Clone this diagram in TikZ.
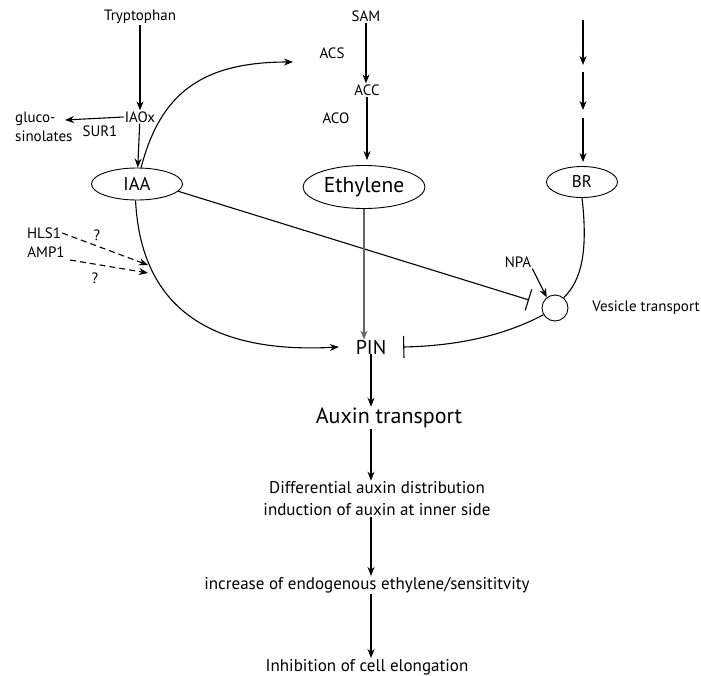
\documentclass[tikz,border=0pt]{standalone}
\usepackage{fontspec}
\setmainfont{PT Sans}
\usetikzlibrary{arrows.meta,shapes.geometric,calc}
\begin{document}
\begin{tikzpicture}[x=1pt,y=-1pt,
  every node/.style={inner sep=1pt},
  lbl/.style={font=\fontsize{15}{16}\selectfont},
  big/.style={font=\fontsize{17}{22}\selectfont},
  ell/.style={draw,ellipse,line width=0.9pt,inner sep=0pt},
  arr/.style={line width=1.1pt,-{Stealth[length=9pt,width=7pt]}},
  inh/.style={line width=1.1pt,-{Bar[width=22pt,line width=1.1pt]}},
  dsh/.style={line width=1.1pt,dash pattern=on 6pt off 4pt,-{Stealth[length=9pt,width=7pt]}}]
\useasboundingbox (0,0) rectangle (701,675);
% IAA branch
\node[lbl] (trp) at (140,17) {Tryptophan};
\node[lbl] (iaox) at (140,117) {IAOx};
\node[lbl,align=left,anchor=west,font=\fontsize{15}{19}\selectfont] (gluc) at (14,127) {gluco-\\sinolates};
\node[lbl] (sur1) at (100,131) {SUR1};
\coordinate (gtip) at (65,120);
\node[ell,font=\fontsize{18.5}{20}\selectfont,minimum width=91pt,minimum height=32pt] (iaa) at (137,184) {IAA};
\draw[arr] (trp) -- (iaox);
\draw[arr] (iaox.west) -- (gtip);
\draw[arr] (iaox) -- (iaa);
% ethylene branch
\node[lbl] (sam) at (366,16) {SAM};
\node[lbl] (acs) at (332,53) {ACS};
\node[lbl] (acc) at (367,90) {ACC};
\node[lbl] (aco) at (336,118) {ACO};
\node[ell,font=\fontsize{21.5}{22}\selectfont,minimum width=122pt,minimum height=43pt] (eth) at (364,187) {Ethylene};
\coordinate (acstip) at (293,62);
\draw[arr] (sam) -- (sam |- acc.north);
\draw[arr,shorten >=5pt] (acc.south) -- (acc.south |- eth.north);
\draw[arr] (iaa.76) .. controls (160,95) and (200,62) .. (acstip);
% BR branch
\coordinate (b1) at (583,20);
\coordinate (b2) at (583,65);
\coordinate (b3) at (583,72);
\coordinate (b4) at (583,110);
\coordinate (b5) at (583,118);
\node[ell,font=\fontsize{17}{18}\selectfont,minimum width=71pt,minimum height=31pt] (br) at (582,182) {BR};
\draw[arr] (b1) -- (b2);
\draw[arr] (b3) -- (b4);
\draw[arr,shorten >=4pt] (b5) -- (b5 |- br.north);
% vesicle
\node[draw,circle,minimum size=26pt,line width=0.9pt,inner sep=0pt] (ves) at (555,308) {};
\node[lbl] (npa) at (518,262) {NPA};
\node[lbl] (vt) at (646,308) {Vesicle transport};
\draw[line width=1.1pt] (br.south) .. controls (588,250) and (582,280) .. (ves.50);
\draw[arr] (npa.south east) -- (ves.128);
\coordinate (vbar) at (529,300);
\draw[inh] (iaa.-10) -- (vbar);
% PIN
\node[font=\fontsize{20}{20}\selectfont,minimum width=64pt,inner ysep=0pt] (pin) at (371,347) {PIN};
\draw[line width=1.2pt,black!60,-{Stealth[length=9pt,width=7pt]}] (eth.south) -- (eth.south |- pin.north);
\draw[inh] (ves.210) .. controls (500,338) and (450,346) .. (pin.east);
\draw[arr] (iaa.-95) .. controls (140,290) and (190,355) .. (pin.west);
% dashed
\node[lbl] (hls) at (44,233) {HLS1};
\node[lbl] (amp) at (46,252) {AMP1};
\node[lbl] (q1) at (97,235) {?};
\node[lbl] (q2) at (95,278) {?};
\coordinate (d1) at (148,265);
\coordinate (d2) at (148,273);
\draw[dsh] (hls.east) -- (d1);
\draw[dsh] (70,260) -- (d2);
% downstream
\node[font=\fontsize{22}{24}\selectfont] (aux) at (389,418) {Auxin transport};
\node[big,align=center] (diff) at (377,499) {Differential auxin distribution\\induction of auxin at inner side};
\node[big] (inc) at (367,585) {increase of endogenous ethylene/sensititvity};
\node[big] (inhn) at (367,667) {Inhibition of cell elongation};
\draw[arr] (pin.south) -- (pin.south |- aux.north);
\draw[arr] (pin.south |- aux.south) -- (pin.south |- diff.north);
\draw[arr] (pin.south |- diff.south) -- (pin.south |- inc.north);
\draw[arr] (pin.south |- inc.south) -- (pin.south |- inhn.north);
\end{tikzpicture}
\end{document}
